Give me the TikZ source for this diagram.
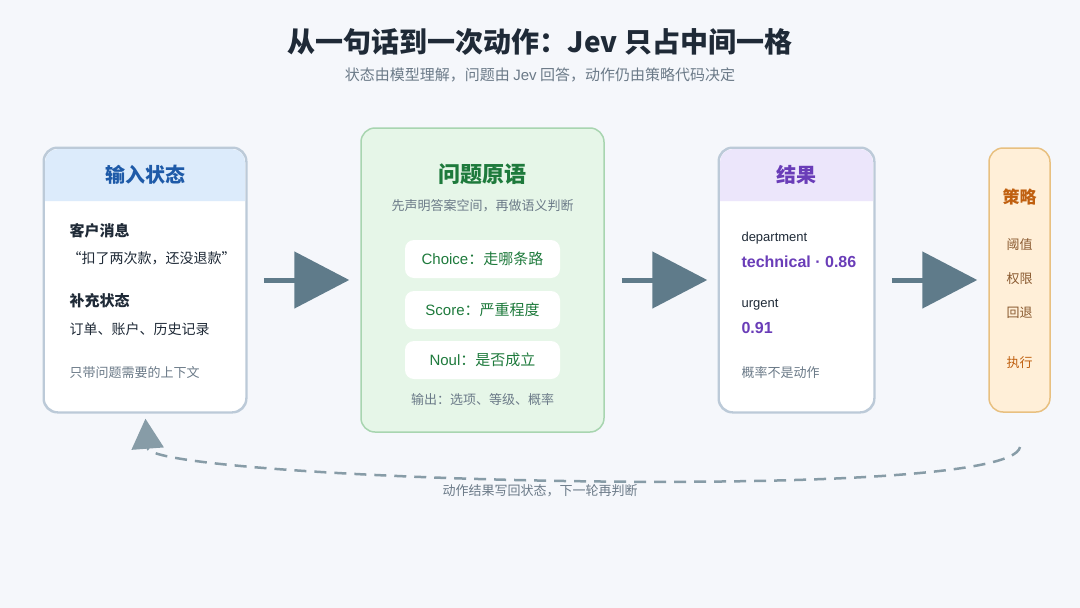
\documentclass[tikz,border=0pt]{standalone}
\usepackage{fontspec}
\setmainfont{Noto Sans CJK SC}
\newfontfamily\latin{Liberation Sans}
\usetikzlibrary{positioning,arrows.meta}
\definecolor{bgc}{HTML}{F5F7FB}
\definecolor{ink}{HTML}{1F2A37}
\definecolor{sub}{HTML}{6B7A88}
\definecolor{arr}{HTML}{5F7B8A}
\definecolor{bluefill}{HTML}{DCEBFB}
\definecolor{bluetxt}{HTML}{1E5AA8}
\definecolor{boxline}{HTML}{BCCAD8}
\definecolor{greenfill}{HTML}{E6F6E8}
\definecolor{greenline}{HTML}{A8D5B0}
\definecolor{greentxt}{HTML}{1E7A3C}
\definecolor{purplefill}{HTML}{ECE6FB}
\definecolor{purpletxt}{HTML}{6A3DB8}
\definecolor{orangefill}{HTML}{FFEFD8}
\definecolor{orangeline}{HTML}{E8C080}
\definecolor{orangetxt}{HTML}{C06010}
\definecolor{browntxt}{HTML}{8A5A30}
\tikzset{
		>=stealth,
		card/.style={draw=boxline, line width=1.5pt, fill=white, rounded corners=14pt, inner sep=0pt},
		pill/.style={fill=white, rounded corners=9pt, minimum width=155pt, minimum height=38pt, text=greentxt, font=\fontsize{15}{18}\selectfont},
		flow/.style={arr, line width=5pt, -{Triangle[length=55pt,width=56pt]}},
		body/.style={anchor=west, text=ink, font=\fontsize{14}{18}\selectfont},
		note/.style={anchor=west, text=sub, font=\fontsize{13}{16}\selectfont}
	}
\begin{document}
\begin{tikzpicture}[x=1pt,y=-1pt]
		\useasboundingbox[fill=bgc] (0,0) rectangle (1080,608);
		% Title
		\node[text=ink, font=\fontsize{28}{32}\selectfont\bfseries] (title) at (540,42) {从一句话到一次动作：Jev 只占中间一格};
		\node[text=sub, font=\fontsize{15}{18}\selectfont] (subtitle) at (540,75) {状态由模型理解，问题由 {\latin Jev} 回答，动作仍由策略代码决定};
		% Cards
		\node[card, minimum width=202pt, minimum height=264pt] (inp) at (145,280) {};
		\fill[bluefill] (45,201) [rounded corners=13pt]-- (45,149) -- (245,149) [sharp corners]-- (245,201) -- cycle;
		\draw[boxline, line width=1.5pt, rounded corners=14pt] (inp.south west) rectangle (inp.north east);
		\node[card, draw=greenline, fill=greenfill, minimum width=243pt, minimum height=304pt] (qst) at (482.5,280) {};
		\node[card, minimum width=155pt, minimum height=264pt] (res) at (796.5,280) {};
		\fill[purplefill] (720,201) [rounded corners=13pt]-- (720,149) -- (873,149) [sharp corners]-- (873,201) -- cycle;
		\draw[boxline, line width=1.5pt, rounded corners=14pt] (res.south west) rectangle (res.north east);
		\node[card, draw=orangeline, fill=orangefill, minimum width=61pt, minimum height=264pt] (pol) at (1019.5,280) {};
		% Input texts
		\node[text=bluetxt, font=\fontsize{20}{24}\selectfont\bfseries] (inptitle) at (145,175) {输入状态};
		\node[body, font=\fontsize{15}{18}\selectfont\bfseries] (msg) at (66,231) {客户消息};
		\node[body] (quote) at (64,258) {“扣了两次款，还没退款”};
		\node[body, font=\fontsize{15}{18}\selectfont\bfseries] (extra) at (66,301) {补充状态};
		\node[body] (records) at (66,329) {订单、账户、历史记录};
		\node[note] (ctx) at (66,373) {只带问题需要的上下文};
		% Question texts
		\node[text=greentxt, font=\fontsize{22}{26}\selectfont\bfseries] (qtitle) at (482.5,174) {问题原语};
		\node[text=sub, font=\fontsize{13}{16}\selectfont] (qsub) at (482.5,206) {先声明答案空间，再做语义判断};
		\node[pill] (choice) at (482.5,259) {{\latin Choice}：走哪条路};
		\node[pill] (score) at (482.5,310) {{\latin Score}：严重程度};
		\node[pill] (noul) at (482.5,360) {{\latin Noul}：是否成立};
		\node[text=sub, font=\fontsize{13}{16}\selectfont] (qout) at (482.5,400) {输出：选项、等级、概率};
		% Result texts
		\node[text=purpletxt, font=\fontsize{20}{24}\selectfont\bfseries] (rtitle) at (796.5,175) {结果};
		\node[note, text=ink, font=\fontsize{13}{16}\selectfont\latin] (dept) at (738,238) {department};
		\node[body, text=purpletxt, font=\fontsize{16}{19}\selectfont\bfseries\latin] (tech) at (738,262) {technical · 0.86};
		\node[note, text=ink, font=\fontsize{13}{16}\selectfont\latin] (urg) at (738,305) {urgent};
		\node[body, text=purpletxt, font=\fontsize{16}{19}\selectfont\bfseries\latin] (urgval) at (738,328) {0.91};
		\node[note] (notact) at (738,373) {概率不是动作};
		% Policy texts
		\node[text=orangetxt, font=\fontsize{17}{20}\selectfont\bfseries] (ptitle) at (1019.5,197) {策略};
		\foreach \t/\y [count=\i] in {阈值/245, 权限/279, 回退/313} {
			\node[text=browntxt, font=\fontsize{13}{16}\selectfont] (p\i) at (1019.5,\y) {\t};
		}
		\node[text=orangetxt, font=\fontsize{13}{16}\selectfont] (exec) at (1019.5,363) {执行};
		% Arrows
		\draw[flow, shorten <=17pt, shorten >=11pt] (inp) -- (qst);
		\draw[flow, shorten <=17pt, shorten >=11pt] (qst) -- (res);
		\draw[flow, shorten <=17pt, shorten >=11pt] (res) -- (pol);
		% Feedback
		\coordinate (fb) at (1020,447);
		\draw[arr!75, line width=2.5pt, dash pattern=on 12pt off 8pt, -{Triangle[length=30pt,width=32pt]}, shorten >=6pt] (fb) .. controls (1010,505) and (150,480) .. (inp.south);
		\node[text=sub, font=\fontsize{13}{16}\selectfont] (fbtext) at (540,491) {动作结果写回状态，下一轮再判断};
\end{tikzpicture}
\end{document}
